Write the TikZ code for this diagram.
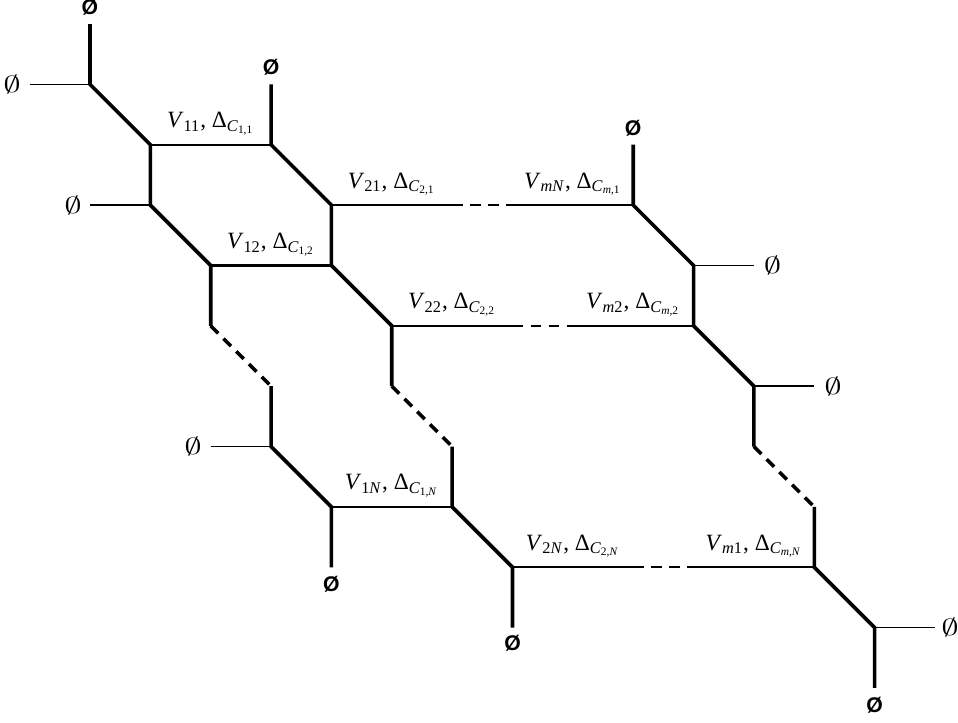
\documentclass[tikz,border=0pt]{standalone}
\usepackage{graphicx}
\usepackage{fontspec}
\setmainfont{Liberation Serif}
\setsansfont{Liberation Sans}
\newcommand{\vlab}[2]{\textit{V}\textsubscript{#1}, Δ\textsubscript{\textit{C}\textsubscript{#2}}}
\newcommand{\thinnull}{\scalebox{1.5}[1]{$\emptyset$}}
\begin{document}
\begin{tikzpicture}[x=1cm,y=-1cm,
  leg/.style={line width=1.7pt},
  rung/.style={line width=1pt},
  tail/.style={line width=0.7pt},
  dsh/.style={dash pattern=on 5pt off 3.5pt},
  lab/.style={anchor=base,inner sep=0pt,font=\fontsize{11}{13}\selectfont},
  bnull/.style={inner sep=0pt,font=\sffamily\bfseries\fontsize{10}{12}\selectfont},
  tnull/.style={inner sep=0pt,font=\fontsize{10.5}{12}\selectfont}]
\useasboundingbox (-1.491,-0.398) rectangle (14.381,11.564);
% vertices
\foreach \i/\j in {0/0,0/1,-1/1,1/2,3/1,3/2,1/3,0/3,2/4,4/4,2/5,3/6,3/7,2/7,4/8,6/8,4/9,4/3,6/3,7/3,9/3,5/5,7/5,8/5,10/5,5/6,6/7,7/9,9/9,10/9,12/9,7/10,9/2,10/4,11/4,11/6,12/6,11/7,12/8,13/10,14/10,13/11}
  \coordinate (n\i-\j) at (\i,\j);
% thick legs
\draw[leg] (n0-0) -- (n0-1) -- (n1-2) -- (n1-3) -- (n2-4) -- (n2-5);
\draw[leg,dsh] (n2-5) -- (n3-6);
\draw[leg] (n3-6) -- (n3-7) -- (n4-8) -- (n4-9);
\draw[leg] (n3-1) -- (n3-2) -- (n4-3) -- (n4-4) -- (n5-5) -- (n5-6);
\draw[leg,dsh] (n5-6) -- (n6-7);
\draw[leg] (n6-7) -- (n6-8) -- (n7-9) -- (n7-10);
\draw[leg] (n9-2) -- (n9-3) -- (n10-4) -- (n10-5) -- (n11-6) -- (n11-7);
\draw[leg,dsh] (n11-7) -- (n12-8);
\draw[leg] (n12-8) -- (n12-9) -- (n13-10) -- (n13-11);
% rungs
\draw[rung] (n1-2) -- (n3-2);
\draw[rung] (n2-4) -- (n4-4);
\draw[rung] (n4-8) -- (n6-8);
\draw[rung] (n4-3) -- (n6-3);
\draw[rung,dsh] (n6-3) -- (n7-3);
\draw[rung] (n7-3) -- (n9-3);
\draw[rung] (n5-5) -- (n7-5);
\draw[rung,dsh] (n7-5) -- (n8-5);
\draw[rung] (n8-5) -- (n10-5);
\draw[rung] (n7-9) -- (n9-9);
\draw[rung,dsh] (n9-9) -- (n10-9);
\draw[rung] (n10-9) -- (n12-9);
% thin tails
\draw[tail] (n-1-1) -- (n0-1);
\draw[tail] (n0-3) -- (n1-3);
\draw[tail] (n2-7) -- (n3-7);
\draw[tail] (n10-4) -- (n11-4);
\draw[tail] (n11-6) -- (n12-6);
\draw[tail] (n13-10) -- (n14-10);
% empty-set labels
\node[bnull] (b1) at (0,-0.27) {Ø};
\node[bnull] (b2) at (3,0.71) {Ø};
\node[bnull] (b3) at (9,1.72) {Ø};
\node[bnull] (b4) at (4,9.28) {Ø};
\node[bnull] (b5) at (7,10.26) {Ø};
\node[bnull] (b6) at (13,11.28) {Ø};
\node[tnull] (t1) at (-1.29,1) {\thinnull};
\node[tnull] (t2) at (-0.28,3) {\thinnull};
\node[tnull] (t3) at (1.71,7) {\thinnull};
\node[tnull] (t4) at (11.31,4) {\thinnull};
\node[tnull] (t5) at (12.31,6) {\thinnull};
\node[tnull] (t6) at (14.25,10) {\thinnull};
% vertex labels
\node[lab] (l11) at (2,1.72) {\vlab{11}{1,1}};
\node[lab] (l21) at (5,2.72) {\vlab{21}{2,1}};
\node[lab] (lmN) at (8,2.72) {\vlab{\textit{mN}}{\textit{m},1}};
\node[lab] (l12) at (3,3.72) {\vlab{12}{1,2}};
\node[lab] (l22) at (6,4.72) {\vlab{22}{2,2}};
\node[lab] (lm2) at (9,4.72) {\vlab{\textit{m}2}{\textit{m},2}};
\node[lab] (l1N) at (5,7.72) {\vlab{1\textit{N}}{1,\textit{N}}};
\node[lab] (l2N) at (8,8.72) {\vlab{2\textit{N}}{2,\textit{N}}};
\node[lab] (lm1) at (11,8.72) {\vlab{\textit{m}1}{\textit{m},\textit{N}}};
\end{tikzpicture}
\end{document}
